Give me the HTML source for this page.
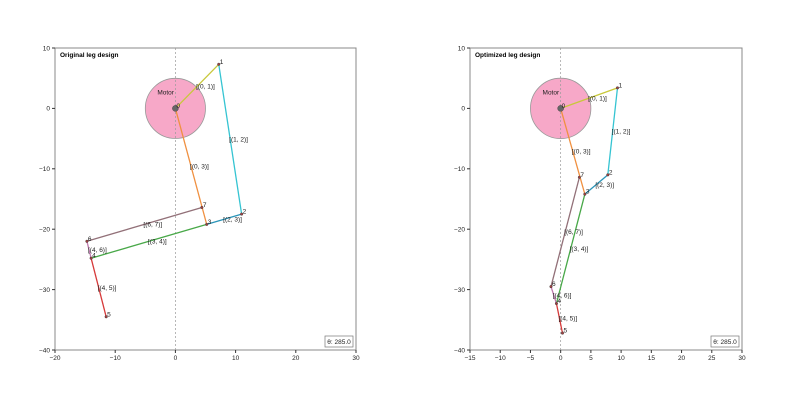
<!DOCTYPE html>
<html><head><meta charset="utf-8"><style>
body{margin:0;background:#fff;}
svg{font-family:"Liberation Sans","DejaVu Sans",sans-serif;}
</style></head><body>
<svg id="chart" width="800" height="400" viewBox="0 0 800 400" xmlns="http://www.w3.org/2000/svg"></svg>
<script>
const edges = [[0,1],[1,2],[0,3],[2,3],[3,4],[4,5],[4,6],[6,7]];
const edgeColors = ["#c8c83a","#35c4d2","#f09040","#2a94b8","#48a848","#d63a3a","#c07ab0","#927078"];
const origX = [0, 7.2, 11, 5.2, -14, -11.5, -14.7, 4.4];
const origY = [0, 7.3, -17.5, -19.2, -24.8, -34.5, -22, -16.4];
const optX = [0, 9.4, 7.8, 4, -0.7, 0.3, -1.6, 3.1];
const optY = [0, 3.4, -11, -14.2, -32.3, -37.2, -29.5, -11.4];
const leftXTicks = [-20,-10,0,10,20,30];
const rightXTicks = [-15,-10,-5,0,5,10,15,20,25,30];
const yTicks = [10,0,-10,-20,-30,-40];
const thetaLabel = "θ: 285.0";

const svg = document.getElementById('chart');
const NS = "http://www.w3.org/2000/svg";
function mk(tag, attrs, parent){const e=document.createElementNS(NS,tag);for(const k in attrs)e.setAttribute(k,attrs[k]);(parent||svg).appendChild(e);return e;}

function panel(name, title, xmin, xmax, px0, px1, xs, ys, xticks){
  const py0=48, py1=350, ymin=-40, ymax=10;
  const sx=v=>px0+(v-xmin)/(xmax-xmin)*(px1-px0);
  const sy=v=>py1-(v-ymin)/(ymax-ymin)*(py1-py0);
  const g=mk('g',{});
  
  
  const fr=mk('rect',{x:px0,y:py0,width:px1-px0,height:py1-py0,fill:'#fff',stroke:'#888','stroke-width':1},g);
  
  
  xticks.forEach(t=>{
    mk('line',{x1:sx(t),x2:sx(t),y1:py1,y2:py1+3,stroke:'#333'},g);
    const tx=mk('text',{x:sx(t),y:py1+10,'font-size':6.5,'text-anchor':'middle',fill:'#222'},g);
    tx.textContent=(t<0?'−':'')+Math.abs(t);
    
    
  });
  yTicks.forEach(t=>{
    mk('line',{x1:px0-3,x2:px0,y1:sy(t),y2:sy(t),stroke:'#333'},g);
    const tx=mk('text',{x:px0-5,y:sy(t)+2.3,'font-size':6.5,'text-anchor':'end',fill:'#222'},g);
    tx.textContent=(t<0?'−':'')+Math.abs(t);
    
    
  });
  const c=mk('circle',{cx:sx(0),cy:sy(0),r:(sx(5)-sx(0)),fill:'#f7a8c8',stroke:'#999','stroke-width':0.8},g);
  
  
  const ml=mk('text',{x:sx(-3),y:sy(2.3),'font-size':6.5,fill:'#222'},g);
  ml.textContent='Motor';
  
  
  const dl=mk('line',{x1:sx(0),x2:sx(0),y1:py0,y2:py1,stroke:'#999','stroke-width':0.7,'stroke-dasharray':'2,2'},g);
  
  
  edges.forEach((e,i)=>{
    const [a,b]=e;
    const l=mk('line',{x1:sx(xs[a]),y1:sy(ys[a]),x2:sx(xs[b]),y2:sy(ys[b]),stroke:edgeColors[i],'stroke-width':1.3},g);
    
    
    const mx=(xs[a]+xs[b])/2,my=(ys[a]+ys[b])/2;
    const t=mk('text',{x:sx(mx)-1,y:sy(my)+2.3,'font-size':6.5,fill:'#222'},g);
    t.textContent='[('+a+', '+b+')]';
    
    
  });
  xs.forEach((x,i)=>{
    const p=mk('circle',{cx:sx(x),cy:sy(ys[i]),r:i===0?3:1.3,fill:i===0?'#666':'#a04040',stroke:'#333','stroke-width':0.4},g);
    
    
    const t=mk('text',{x:sx(x)+1,y:sy(ys[i])-0.5,'font-size':6.5,fill:'#222'},g);
    t.textContent=i;
    
    
  });
  const tt=mk('text',{x:px0+5,y:py0+9,'font-size':6.5,'font-weight':'bold',fill:'#000'},g);
  tt.textContent=title;
  
  
  const br=mk('rect',{x:px1-31,y:py1-14,width:28,height:11,fill:'#fff',stroke:'#777','stroke-width':0.7},g);
  
  
  const bt=mk('text',{x:px1-17,y:py1-6,'font-size':6.5,'text-anchor':'middle',fill:'#222'},g);
  bt.textContent=thetaLabel;
  
  
}
panel('original-leg-panel','Original leg design',-20,30,55,356,origX,origY,leftXTicks);
panel('optimized-leg-panel','Optimized leg design',-15,30,470,742,optX,optY,rightXTicks);
</script>
</body></html>
